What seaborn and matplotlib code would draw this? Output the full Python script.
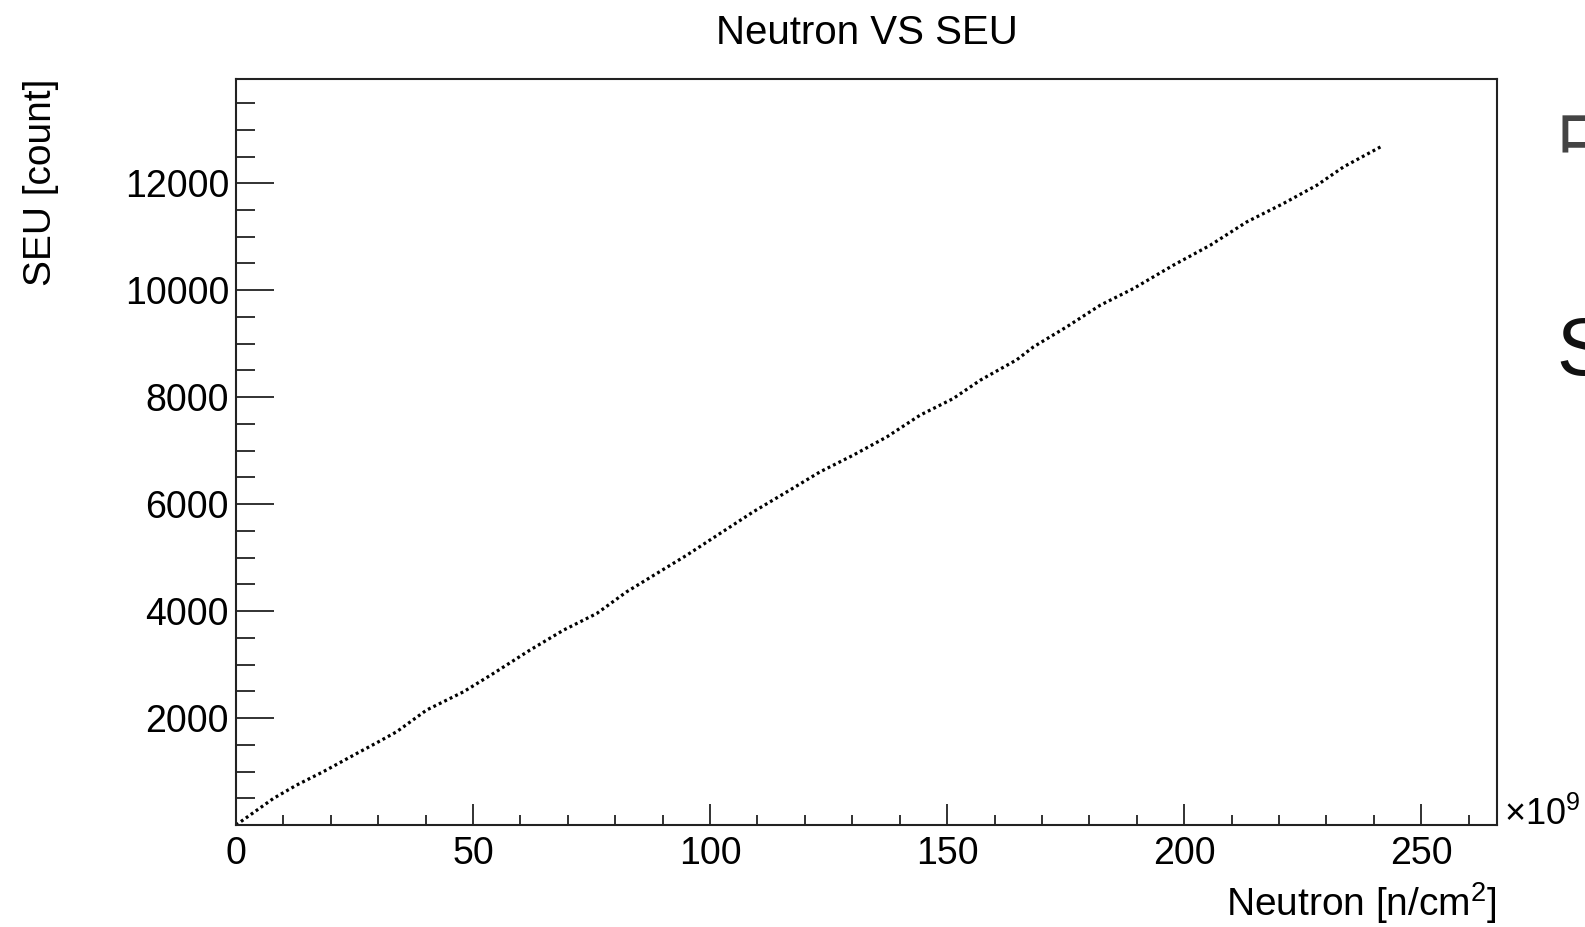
import matplotlib
matplotlib.use("Agg")
import matplotlib.pyplot as plt
from matplotlib.ticker import MultipleLocator
import seaborn as sns

# points (neutron en 1e9 n/cm2, SEU en coups)
neutron = [0, 7.9, 12.8, 18.4, 25.5, 29.7, 33.9, 40.2, 48.0, 54.3, 62.0, 69.1,
           76.1, 82.4, 95.1, 102.1, 109.1, 116.2, 123.2, 130.2, 137.3, 144.3,
           151.3, 157.0, 164.7, 168.2, 175.2, 182.3, 189.3, 197.7, 205.5,
           213.2, 220.9, 228.0, 233.6, 241.4]
seu = [0, 498, 748, 997, 1340, 1539, 1745, 2150, 2492, 2835, 3271, 3645,
       3956, 4361, 5047, 5452, 5856, 6230, 6604, 6916, 7258, 7664,
       7975, 8318, 8700, 8940, 9314, 9720, 10031, 10467, 10841,
       11277, 11620, 11963, 12305, 12679]

sns.set_theme(style="white")
plt.rcParams['font.family'] = ['Liberation Sans', 'DejaVu Sans']
plt.rcParams['mathtext.fontset'] = 'custom'
plt.rcParams['mathtext.rm'] = 'Liberation Sans'
plt.rcParams['mathtext.it'] = 'Liberation Sans:italic'
plt.rcParams['text.color'] = 'black'
plt.rcParams['axes.labelcolor'] = 'black'

fig = plt.figure(figsize=(15.85, 9.27), dpi=100)
ax = fig.add_axes([0.1489, 0.110, 0.7956, 0.8048])

sns.lineplot(x=neutron, y=seu, color='black', linewidth=2.3,
             dashes=False, ax=ax)
ax.lines[0].set_dashes([0.9, 1.0])

ax.set_xlim(0, 266)
ax.set_ylim(0, 13950)
ax.xaxis.set_major_locator(MultipleLocator(50))
ax.xaxis.set_minor_locator(MultipleLocator(10))
ax.yaxis.set_minor_locator(MultipleLocator(500))
ax.set_yticks([2000, 4000, 6000, 8000, 10000, 12000])

ax.tick_params(axis='both', which='both', direction='in', color='#222222',
               labelsize=27, labelcolor='black', width=1.3,
               bottom=True, left=True, top=False, right=False)
ax.tick_params(axis='x', which='major', length=15, pad=8)
ax.tick_params(axis='x', which='minor', length=7)
ax.tick_params(axis='y', which='major', length=27, pad=5)
ax.tick_params(axis='y', which='minor', length=14)

for s in ax.spines.values():
    s.set_color('#222222')
    s.set_linewidth(1.5)

ax.set_title("Neutron VS SEU", fontsize=29, y=1.0617, pad=0, va='center')
ax.set_xlabel("Neutron [n/cm$^{2}$]", fontsize=28, loc='right')
ax.xaxis.set_label_coords(1.0, -0.105)
ax.xaxis.label.set_va('center')
fig.text(41 / 1585, 1 - 79 / 927, "SEU [count]", fontsize=28, rotation=90,
         ha='center', va='top')

ax.text(1.0055, 0, r"$\times10^{9}$", transform=ax.transAxes, fontsize=26,
        ha='left', va='baseline')

# texte coupé au bord droit
fig.text(1555 / 1585, 1 - 167 / 927, "中", fontsize=56, color='#444444',
         family=['Noto Sans CJK SC', 'DejaVu Sans'], ha='left', va='baseline')
fig.text(1556 / 1585, 1 - 375 / 927, "S", fontsize=58, color='#111111',
         ha='left', va='baseline')

fig.savefig("out.png", dpi=100, facecolor='white')
